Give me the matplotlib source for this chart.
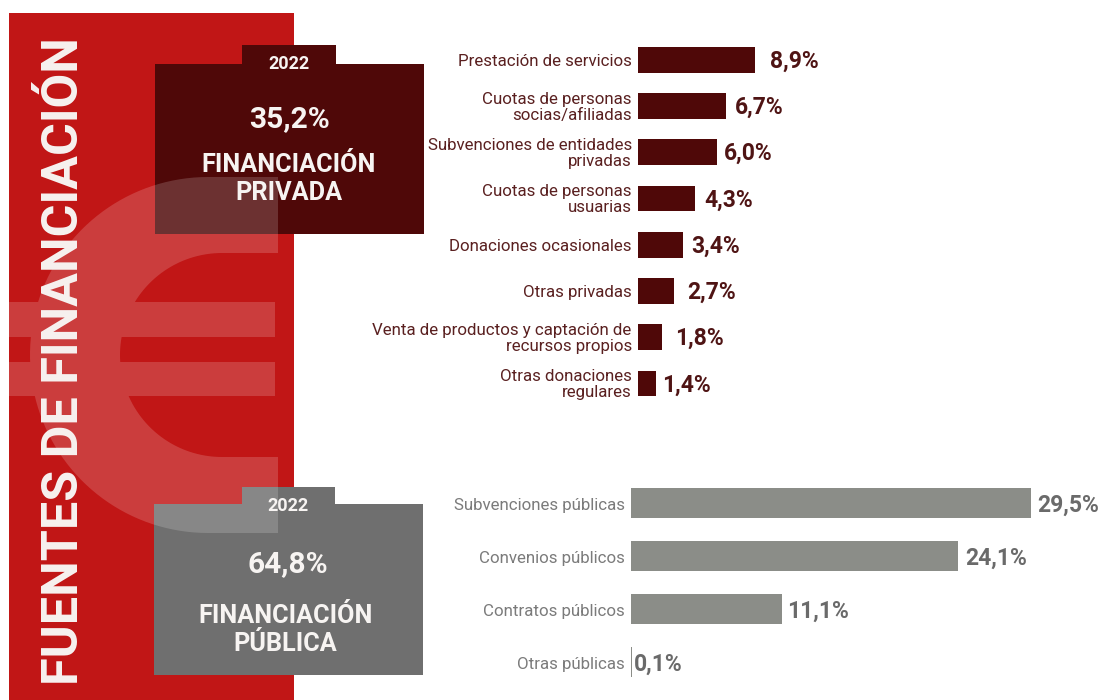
import numpy as np
import matplotlib
matplotlib.use('Agg')
import matplotlib.pyplot as plt
from matplotlib.patches import Rectangle, PathPatch
from matplotlib.path import Path

plt.rcParams['font.family'] = ['Roboto', 'DejaVu Sans']

W, H = 1099, 700

# Data
priv_labels = ['Prestación de servicios', 'Cuotas de personas\nsocias/afiliadas',
               'Subvenciones de entidades\nprivadas', 'Cuotas de personas\nusuarias',
               'Donaciones ocasionales', 'Otras privadas',
               'Venta de productos y captación de\nrecursos propios',
               'Otras donaciones\nregulares']
priv_values = [8.9, 6.7, 6.0, 4.3, 3.4, 2.7, 1.8, 1.4]
pub_labels = ['Subvenciones públicas', 'Convenios públicos', 'Contratos públicos', 'Otras públicas']
pub_values = [29.5, 24.1, 11.1, 0.1]
total_priv = '35,2%'
total_pub = '64,8%'
year = '2022'

# gaps in px between bar end and value label, the original is not regular
priv_gaps = [15, 9, 7, 10, 9, 14, 13, 6]
pub_gaps = [6, 7, 6, 2]

RED = '#c11616'
DARK = '#4f0808'
GRAY = '#6f6f6f'
BAR_GRAY = '#8b8d88'


def pct(v):
    return f'{v:.1f}'.replace('.', ',') + '%'


def px_axes(fig, left, top, right, bottom, **kw):
    return fig.add_axes([left / W, 1 - bottom / H, (right - left) / W, (bottom - top) / H], **kw)


def euro_path():
    """Euro sign in pixel coords, every subpath wound the same way so overlaps don't add up"""
    t = np.radians(np.linspace(90, 270, 80))
    cy = 355
    outer = np.column_stack([208 + 178 * np.cos(t), cy - 178 * np.sin(t)])
    inner = np.column_stack([222 + 102 * np.cos(t), cy - 102 * np.sin(t)])[::-1]
    c_shape = np.vstack([[[278, 177]], outer, [[278, 533], [278, 457]], inner, [[278, 253]]])
    bar1 = np.array([[9, 302], [275, 302], [275, 337], [9, 337]], float)
    bar2 = np.array([[9, 362], [275, 362], [275, 396], [9, 396]], float)
    verts, codes = [], []
    for poly in (c_shape, bar1, bar2):
        x, y = poly[:, 0], poly[:, 1]
        area = np.sum(x * np.roll(y, -1) - np.roll(x, -1) * y)
        if area < 0:
            poly = poly[::-1]
        verts.extend(poly.tolist() + [poly[0].tolist()])
        codes.extend([Path.MOVETO] + [Path.LINETO] * (len(poly) - 1) + [Path.CLOSEPOLY])
    return Path(verts, codes)


def box(ax, x0, y0, x1, y1, tab0, tab1, tab_top, color):
    ax.add_patch(Rectangle((x0, y0), x1 - x0, y1 - y0, fc=color, ec='none'))
    ax.add_patch(Rectangle((tab0, tab_top), tab1 - tab0, y0 - tab_top + 1, fc=color, ec='none'))


def bar_panel(ax, labels, values, gaps, color, label_color, value_color, height, dy):
    ypos = np.arange(len(values))
    ax.barh(ypos, values, height=height, color=color)
    ax.set_ylim(len(values) - 0.5, -0.5)
    ax.axis('off')
    for y, lab, v, gap in zip(ypos, labels, values, gaps):
        ax.annotate(lab, (0, y), xytext=(-4.5, -dy), textcoords='offset points', ha='right', va='center',
                    fontsize=12.2, color=label_color, linespacing=1.1)
        ax.annotate(pct(v), (v, y), xytext=(gap * 0.72, -dy), textcoords='offset points', ha='left',
                    va='center', fontsize=16.5, fontweight='bold', color=value_color)


fig = plt.figure(figsize=(W / 100, H / 100), dpi=100, facecolor='white')

# Background layer in pixel coords
bg = fig.add_axes([0, 0, 1, 1])
bg.set_xlim(0, W)
bg.set_ylim(H, 0)
bg.axis('off')
bg.add_patch(Rectangle((9, 13), 285, H - 13, fc=RED, ec='none'))
box(bg, 155, 64, 424, 234, 242, 336, 45, DARK)
box(bg, 154, 504, 423, 675, 242, 335, 487, GRAY)
bg.add_patch(PathPatch(euro_path(), fc='white', ec='none', alpha=0.17))

bg.text(65, 361, 'FUENTES DE FINANCIACIÓN', rotation=90, ha='center', va='center',
        fontsize=36.2, fontweight='bold', color='#f7f2f0')

for x, y, txt, size, weight in [(289, 64, year, 13, 'bold'),
                                (289, 119, total_priv, 21.5, 'bold'),
                                (289, 165, 'FINANCIACIÓN', 18.2, 'bold'),
                                (289, 193, 'PRIVADA', 18.2, 'bold'),
                                (288, 506, year, 13, 'bold'),
                                (288, 564, total_pub, 21.5, 'bold'),
                                (286, 616, 'FINANCIACIÓN', 18.2, 'bold'),
                                (285, 644, 'PÚBLICA', 18.2, 'bold')]:
    bg.text(x, y, txt, ha='center', va='center', fontsize=size, fontweight=weight, color='#f7f4f2')

# Private bars
ax_priv = px_axes(fig, 638, 36.6, 638 + 263, 406.6)
ax_priv.patch.set_alpha(0)
ax_priv.set_xlim(0, 20)
bar_panel(ax_priv, priv_labels, priv_values, priv_gaps, DARK, '#5a2020', '#4f1414', 0.56, 1)

# Public bars
ax_pub = px_axes(fig, 631, 476.5, 631 + 461, 688.5)
ax_pub.patch.set_alpha(0)
ax_pub.set_xlim(0, 34)
bar_panel(ax_pub, pub_labels, pub_values, pub_gaps, BAR_GRAY, '#7b7b7b', '#6a6a6a', 0.57, 2)

fig.savefig('out.png', dpi=100)
